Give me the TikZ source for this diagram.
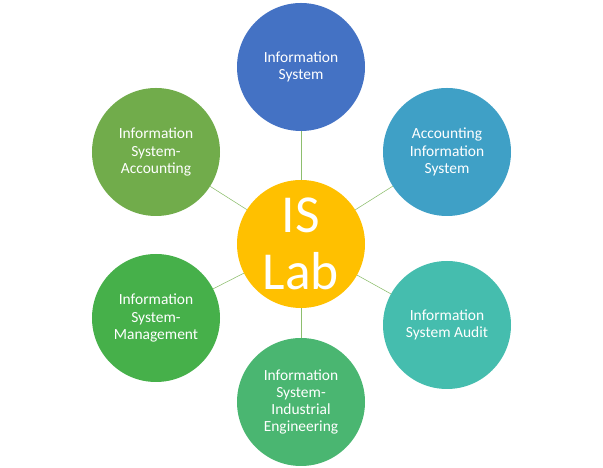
\documentclass[tikz,border=0pt]{standalone}
\usepackage{fontspec}
\setmainfont{Carlito}
\usetikzlibrary{positioning}
\definecolor{isTop}{HTML}{4472C4}
\definecolor{isUR}{HTML}{3FA0C6}
\definecolor{isLR}{HTML}{45BDAE}
\definecolor{isBot}{HTML}{4AB671}
\definecolor{isLL}{HTML}{46B04A}
\definecolor{isUL}{HTML}{71AC4B}
\definecolor{isHub}{HTML}{FFC000}
\definecolor{isLink}{HTML}{8DBE6E}

\tikzset{
  topic/.style={circle, minimum size=3.2cm, inner sep=0pt, text=white,
    align=center, font=\fontsize{11}{12.3}\selectfont},
  link/.style={isLink, thin}
}

\begin{document}
\begin{tikzpicture}
  \useasboundingbox (-7.525,-5.6) rectangle (7.55,6.1);

  \node[topic, fill=isHub, font=\fontsize{38}{41}\selectfont] (hub) at (0,0) {IS\\Lab};

  \node[topic, fill=isTop] (sys) at (0,4.425) {Information\\System};
  \node[topic, fill=isUR] (acc) at (3.65,2.3) {Accounting\\Information\\System};
  \node[topic, fill=isLR] (aud) at (3.65,-2.025) {Information\\System Audit};
  \node[topic, fill=isBot] (ind) at (0,-3.95) {Information\\System-\\Industrial\\Engineering};
  \node[topic, fill=isLL] (man) at (-3.625,-1.85) {Information\\System-\\Management};
  \node[topic, fill=isUL] (sac) at (-3.625,2.3) {Information\\System-\\Accounting};

  % spokes
  \foreach \n in {sys,acc,aud,ind,man,sac}
    \draw[link] (hub) -- (\n);
\end{tikzpicture}
\end{document}
